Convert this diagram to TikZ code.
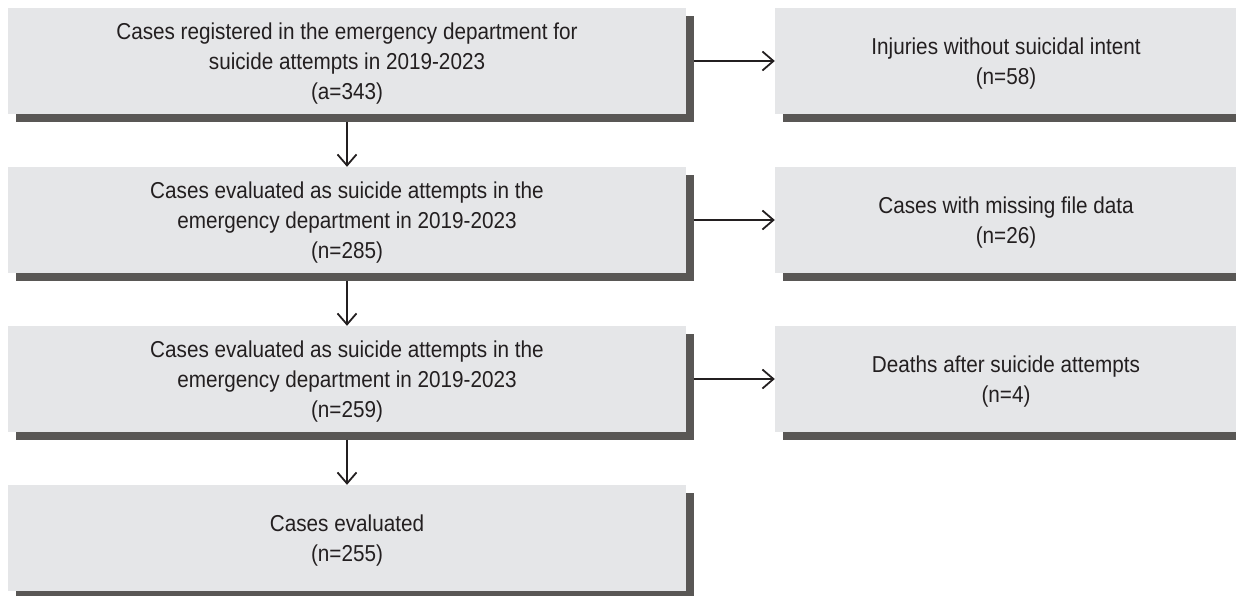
\documentclass[tikz,border=0pt]{standalone}
\usepackage{fontspec}
\setmainfont{Liberation Sans}[FakeStretch = 0.9]
\usepackage{xcolor}
\usepackage{tikz}
\usetikzlibrary{arrows.meta}
\usetikzlibrary{shadows}
\definecolor{boxgray}{HTML}{E5E6E8}
\definecolor{shadowgray}{HTML}{595755}
\definecolor{textgray}{HTML}{231F20}

\begin{document}
\begin{tikzpicture}[x = 1pt, y = -1pt,
		casebox/.style = {fill = boxgray, text = textgray, minimum width = 678pt, minimum height = 106pt, inner sep = 0pt, align = center,
			font = \fontsize{23}{30}\selectfont, text depth = -3pt,
			drop shadow = {shadow xshift = 7.5pt, shadow yshift = -7.5pt, fill = shadowgray, opacity = 1}},
		sidebox/.style = {casebox, minimum width = 462pt},
		flow/.style = {-{Straight Barb[length = 11pt, width = 19pt]}, line width = 1.8pt, textgray}]
		\useasboundingbox (0,0) rectangle (1236,595);
		% left column
		\node[casebox] (c1) at (347,61) {Cases registered in the emergency department for\\suicide attempts in 2019-2023\\(a=343)};
		\node[casebox] (c2) at (347,220) {Cases evaluated as suicide attempts in the\\emergency department in 2019-2023\\(n=285)};
		\node[casebox] (c3) at (347,379) {Cases evaluated as suicide attempts in the\\emergency department in 2019-2023\\(n=259)};
		\node[casebox] (c4) at (347,538) {Cases evaluated\\(n=255)};
		% right column
		\node[sidebox] (r1) at (1006,61) {Injuries without suicidal intent\\(n=58)};
		\node[sidebox] (r2) at (1006,220) {Cases with missing file data\\(n=26)};
		\node[sidebox] (r3) at (1006,379) {Deaths after suicide attempts\\(n=4)};
		\foreach \i [count = \k from 2] in {1,2,3}{
			\draw[flow] ([yshift = -7.5pt]c\i.south) -- (c\k.north);
			\draw[flow] ([xshift = 7.5pt]c\i.east) -- (r\i.west);
		}
	\end{tikzpicture}
\end{document}
